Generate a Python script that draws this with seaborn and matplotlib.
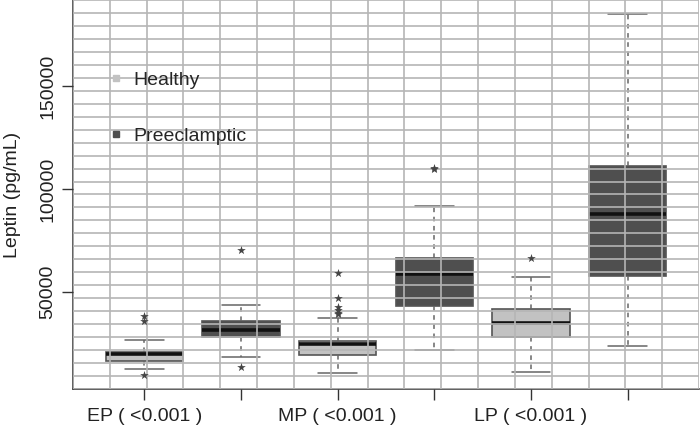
import numpy as np
import pandas as pd
import matplotlib
matplotlib.use("Agg")
import matplotlib.pyplot as plt
from matplotlib.lines import Line2D
from matplotlib.ticker import LinearLocator
import seaborn as sns

# one slot per box, in drawing order
slots = ["EP_H", "EP_P", "MP_H", "MP_P", "LP_H", "LP_P"]
groups = ["Healthy", "Preeclamptic", "Healthy", "Preeclamptic", "Healthy", "Preeclamptic"]
tick_labels = ["EP ( <0.001 )", "", "MP ( <0.001 )", "", "LP ( <0.001 )", ""]

# five number summaries (pg/mL)
whisker_low = [12800, 18700, 10800, 22100, 11200, 23700]
q1 = [16500, 28200, 19600, 43200, 28200, 57900]
median = [19900, 31700, 24900, 58900, 35000, 87700]
q3 = [21000, 36100, 26500, 66800, 41700, 111000]
whisker_high = [26800, 43700, 37400, 91900, 57600, 184800]

# points beyond the whiskers
outlier_slot = ["EP_H", "EP_H", "EP_H", "EP_P", "EP_P",
                "MP_H", "MP_H", "MP_H", "MP_H", "MP_H", "MP_H",
                "MP_P", "MP_P", "LP_H"]
outlier_value = [38600, 36100, 10000, 70400, 13700,
                 59200, 47300, 43000, 41400, 39800, 39500,
                 109700, 110300, 66800]

palette = {"Healthy": "#c2c2c2", "Preeclamptic": "#4f4f4f"}

rows = []
for i, s in enumerate(slots):
    for v in (whisker_low[i], q1[i], median[i], q3[i], whisker_high[i]):
        rows.append({"slot": s, "group": groups[i], "value": v})
box_df = pd.DataFrame(rows)
out_df = pd.DataFrame({"slot": outlier_slot, "value": outlier_value})

sns.set_style("white")
plt.rcParams["font.family"] = ["Liberation Sans", "DejaVu Sans"]

fig, ax = plt.subplots(figsize=(7, 4.26), dpi=100)
fig.subplots_adjust(left=73 / 700, right=699 / 700, top=1.0, bottom=37 / 426)

sns.boxplot(
    data=box_df, x="slot", y="value", hue="group", order=slots,
    palette=palette, dodge=False, width=0.8, whis=(0, 100), legend=False,
    linewidth=1.2, linecolor="#555555",
    medianprops=dict(color="#111111", linewidth=2.6),
    whiskerprops=dict(color="#666666", linestyle=(0, (3, 3)), linewidth=1.1),
    capprops=dict(color="#666666", linewidth=1.1),
    ax=ax,
)
sns.stripplot(
    data=out_df, x="slot", y="value", order=slots, jitter=False,
    marker="*", color="#444444", size=6.5, ax=ax,
)

all_vals = np.array(whisker_low + whisker_high + outlier_value)
span = all_vals.max() - all_vals.min()
ax.set_xlim(-0.74, len(slots) - 1 + 0.74)
ax.set_ylim(all_vals.min() - 0.04 * span, all_vals.max() + 0.04 * span)

# R style grid(17, 30) drawn over the boxes
ax.xaxis.set_minor_locator(LinearLocator(18))
ax.yaxis.set_minor_locator(LinearLocator(31))
ax.grid(which="minor", color="#b5b5b5", linewidth=1.2)
ax.grid(which="major", visible=False)
ax.set_axisbelow(False)
ax.tick_params(which="minor", length=0)

ax.set_yticks([50000, 100000, 150000])
ax.set_xticks(range(len(slots)))
ax.set_xticklabels(tick_labels)
ax.tick_params(axis="both", which="major", length=8, width=1, color="#333333",
               labelsize=14, labelcolor="#222222", direction="out",
               bottom=True, left=True)
ax.tick_params(axis="x", pad=6)
ax.tick_params(axis="y", pad=4)
plt.setp(ax.get_yticklabels(), rotation=90, va="center")

ax.set_xlabel("")
ax.set_ylabel("Leptin (pg/mL)", fontsize=14, color="#222222")
ax.yaxis.set_label_coords(-0.083, 0.5)

sns.despine(ax=ax)
for side in ["left", "bottom"]:
    ax.spines[side].set_color("#444444")
    ax.spines[side].set_linewidth(1.2)

handles = [Line2D([], [], marker="s", linestyle="", markersize=5,
                  color=palette[g], label=g) for g in ["Healthy", "Preeclamptic"]]
ax.legend(handles=handles, loc="upper left", bbox_to_anchor=(0.028, 0.862),
          frameon=False, fontsize=14, handlelength=0.8, handletextpad=0.5,
          labelspacing=2.0)

fig.savefig("out.png", dpi=100)
